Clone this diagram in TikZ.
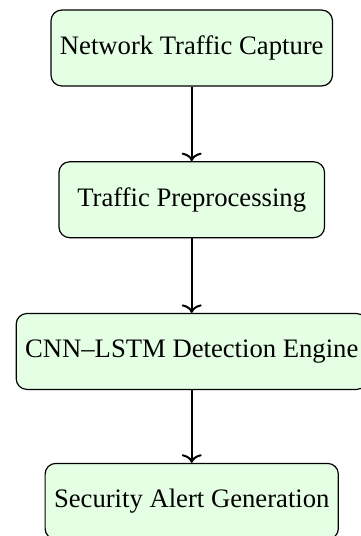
\documentclass[tikz,border=0pt]{standalone}
\usepackage{fontspec}
\setmainfont{Liberation Serif}
\usetikzlibrary{arrows.meta}
\begin{document}
\begin{tikzpicture}[
  stepbox/.style={draw, line width=0.45pt, rounded corners=4pt, fill=green!10, minimum height=1cm, minimum width=3.5cm, inner sep=3.33pt, font=\fontsize{10pt}{12pt}\selectfont},
  flow/.style={-{To[length=3.2pt,width=7.5pt]}, line width=0.75pt}
]
\useasboundingbox (0pt,0pt) rectangle (135pt,-201pt);
\node[stepbox] (n1) at (71.9pt,-18pt) {Network Traffic Capture};
\node[stepbox] (n2) at (71.9pt,-74.9pt) {Traffic Preprocessing};
\node[stepbox] (n3) at (71.9pt,-131.8pt) {CNN--LSTM Detection Engine};
\node[stepbox] (n4) at (71.9pt,-188pt) {Security Alert Generation};
\draw[flow] (n1) -- (n2);
\draw[flow] (n2) -- (n3);
\draw[flow] (n3) -- (n4);
\end{tikzpicture}
\end{document}
